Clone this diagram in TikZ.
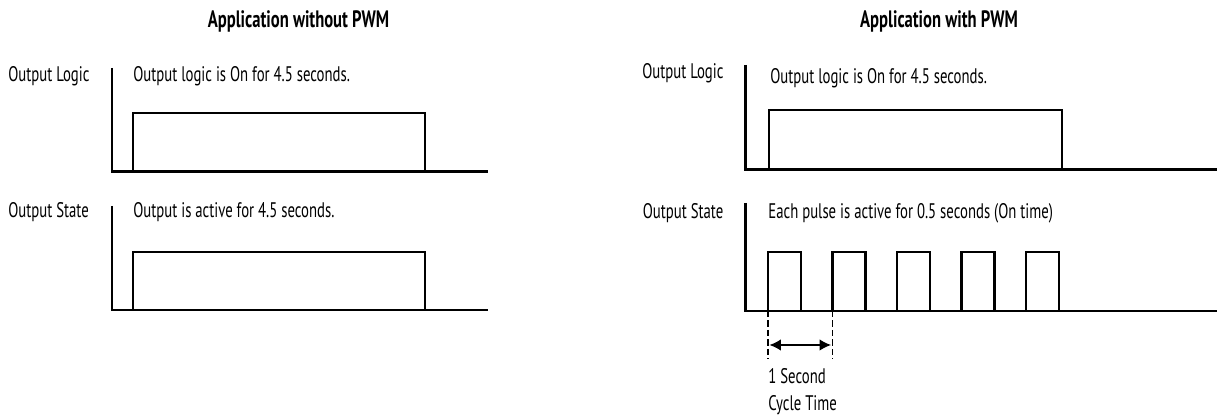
\documentclass[tikz,border=0pt]{standalone}
\usepackage{fontspec}
\setmainfont{PT Sans}[FakeStretch=0.7]
\usetikzlibrary{positioning,arrows.meta}

\tikzset{
  lbl/.style={inner sep=0pt, anchor=base west, font=\fontsize{12}{14}\selectfont},
  ttl/.style={inner sep=0pt, anchor=base, font=\fontsize{13.5}{16}\selectfont\bfseries},
  axis/.style={line width=1.5pt},
  wave/.style={line width=1.3pt, line join=miter},
  guide/.style={line width=0.6pt, dash pattern=on 3.6pt off 1.8pt}
}

\begin{document}
\begin{tikzpicture}[>={Latex[length=6.5pt,width=6.5pt]}, scale=0.2]
    \useasboundingbox (0,0) rectangle (121.7,41.5);

    % 1. Titles
    \node[ttl] (titleL) at (29.85,38.75) {Application without PWM};
    \node[ttl] (titleR) at (93.9,38.75) {Application with PWM};

    % 2. Left panel: output logic
    \node[lbl] (logicL) at (0.8,33.35) {Output Logic};
    \node[lbl] (logicLtxt) at (13.3,33.35) {Output logic is On for 4.5 seconds.};
    \draw[axis] (11.2,34.7) -- (11.2,24.33) -- (48.8,24.33);
    \draw[wave] (13.3,24.33) -- (13.3,30.23) -- (42.5,30.23) -- (42.5,24.33);

    % 3. Left panel: output state
    \node[lbl] (stateL) at (0.8,19.7) {Output State};
    \node[lbl] (stateLtxt) at (13.3,19.7) {Output is active for 4.5 seconds.};
    \draw[axis] (11.2,20.9) -- (11.2,10.5) -- (48.8,10.5);
    \draw[wave] (13.3,10.5) -- (13.3,16.33) -- (42.5,16.33) -- (42.5,10.5);

    % 4. Right panel: output logic
    \node[lbl] (logicR) at (64.2,33.6) {Output Logic};
    \node[lbl] (logicRtxt) at (77.0,33.1) {Output logic is On for 4.5 seconds.};
    \draw[axis] (74.57,35.0) -- (74.57,24.57) -- (121.7,24.57);
    \draw[wave] (76.9,24.57) -- (76.9,30.5) -- (106.17,30.5) -- (106.17,24.57);

    % 5. Right panel: output state (PWM pulses)
    \node[lbl] (stateR) at (64.25,19.6) {Output State};
    \node[lbl] (stateRtxt) at (76.8,19.6) {Each pulse is active for 0.5 seconds (On time)};
    \draw[axis] (74.57,21.2) -- (74.57,10.4) -- (121.7,10.4);
    \foreach \i in {0,...,4}
        \draw[wave] ({76.8+6.45*\i},10.4) -- ({76.8+6.45*\i},16.33)
            -- ({80.1+6.45*\i},16.33) -- ({80.1+6.45*\i},10.4);

    % 6. Cycle time
    \coordinate (cycA) at (76.8,10.4);
    \coordinate (cycB) at (83.25,10.4);
    \coordinate (cycAend) at (76.8,5.6);
    \coordinate (cycBend) at (83.25,5.6);
    \draw[guide] (cycA) -- (cycAend);
    \draw[guide] (cycB) -- (cycBend);
    \draw[<->, line width=0.9pt, shorten <=0.8pt, shorten >=0.8pt]
        (cycA |- 0,7.0) -- (cycB |- 0,7.0);
    \node[lbl] (cyc1) at (76.8,3.1) {1 Second};
    \node[lbl] (cyc2) at (76.8,0.45) {Cycle Time};
\end{tikzpicture}
\end{document}
